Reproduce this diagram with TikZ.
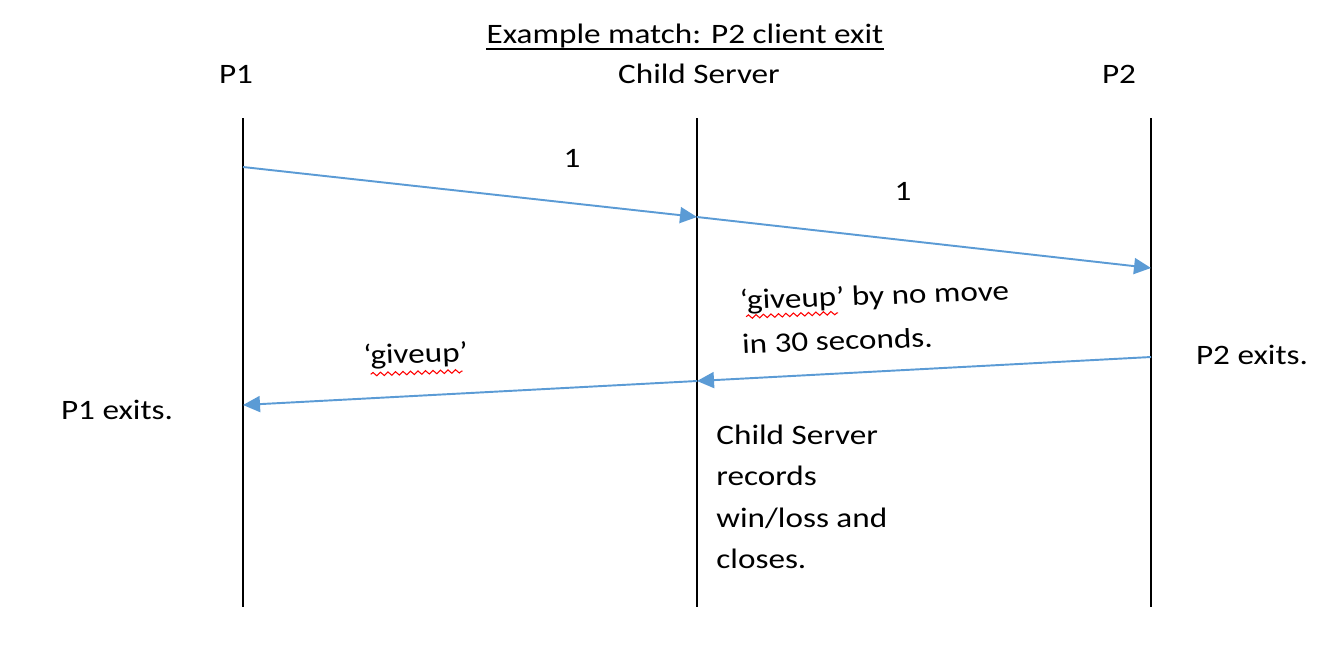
\documentclass[tikz,border=0pt]{standalone}
\usepackage{fontspec}
\setmainfont{Carlito}
\usepackage{xcolor}
\usepackage{tikz}
\usetikzlibrary{arrows.meta,positioning,decorations.pathmorphing}

\definecolor{msgblue}{RGB}{91,155,213}

\begin{document}
\begin{tikzpicture}[x=0.02cm, y=-0.02cm,
    every node/.style={inner sep=0pt, font=\fontsize{16}{23.4}\selectfont, xscale=1.18},
    lifeline/.style={line width=1.1pt},
    msg/.style={msgblue, line width=1.1pt, -{Triangle[length=0.34cm,width=0.32cm]}},
    spellwave/.style={red, line width=0.6pt, decorate,
      decoration={snake, segment length=0.15cm, amplitude=0.035cm}}]
  \useasboundingbox (0,0) rectangle (1344,646);
  % --- title ---
  \node[anchor=base] (title) at (685,43) {Example match: P2 client exit};
  \draw[line width=1.1pt] ([yshift=-3.4pt]title.base west) -- ([yshift=-3.4pt]title.base east);
  % --- lifelines ---
  \node[anchor=base] (p1) at (236,83) {P1};
  \node[anchor=base] (cs) at (699,83) {Child Server};
  \node[anchor=base] (p2) at (1119,83) {P2};
  \coordinate (p1top) at (243,118);
  \coordinate (p1bot) at (243,607);
  \coordinate (cstop) at (697,118);
  \coordinate (csbot) at (697,607);
  \coordinate (p2top) at (1151,118);
  \coordinate (p2bot) at (1151,607);
  \draw[lifeline] (p1top) -- (p1bot);
  \draw[lifeline] (cstop) -- (csbot);
  \draw[lifeline] (p2top) -- (p2bot);
  % --- messages ---
  \coordinate (m1) at (243,167);
  \coordinate (m2) at (697,217);
  \coordinate (m3) at (1151,268);
  \coordinate (m4) at (1151,357);
  \coordinate (m5) at (697,381);
  \coordinate (m6) at (243,405);
  \draw[msg] (m1) -- (m2);
  \draw[msg] (m2) -- (m3);
  \draw[msg] (m4) -- (m5);
  \draw[msg] (m5) -- (m6);
  % --- labels ---
  \node[anchor=base] (one1) at (572,167) {1};
  \node[anchor=base] (one2) at (903,200) {1};
  \node[anchor=north west, align=left, rotate=2.4, font=\fontsize{16}{25}\selectfont] (nomove) at (739,289)
    {‘giveup’ by no move\\in 30 seconds.};
  \node[anchor=base, rotate=2] (giveup) at (416,363) {‘giveup’};
  \node[anchor=base] (p2exit) at (1252,364) {P2 exits.};
  \node[anchor=base] (p1exit) at (117,419) {P1 exits.};
  \node[anchor=north west, align=left] (closes) at (716,425)
    {Child Server\\records\\win/loss and\\closes.};
  % --- spell-check underlines ---
  \begin{scope}[shift={(nomove.north west)}, rotate=2.4]
    \draw[spellwave] (6,28) -- (98,28);
  \end{scope}
  \begin{scope}[shift={(giveup.base west)}, rotate=2]
    \draw[spellwave] (7,10) -- (99,10);
  \end{scope}
\end{tikzpicture}
\end{document}
